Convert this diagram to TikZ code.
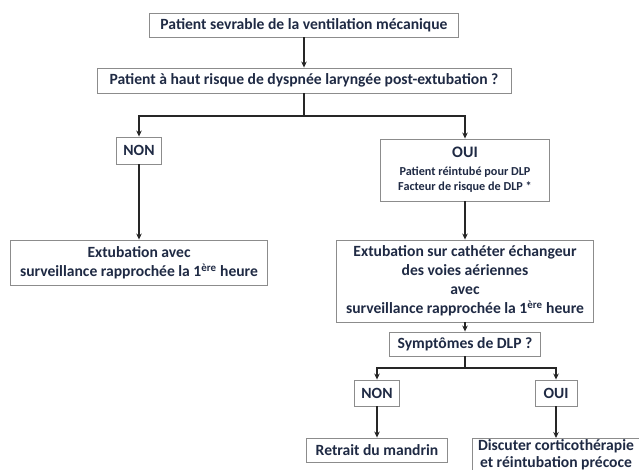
\documentclass[tikz,border=0pt]{standalone}
\usepackage{fontspec}
\setmainfont{Carlito}
\usetikzlibrary{arrows.meta}
\definecolor{boxgray}{HTML}{8C8C8C}
\definecolor{navytext}{HTML}{1F2A44}

\begin{document}
\begin{tikzpicture}[x=1pt,y=-1pt,
	boxnode/.style={draw=boxgray,line width=0.9pt,fill=white,align=center,inner sep=2pt,
		font=\fontsize{15.6}{19}\selectfont\bfseries,text=navytext},
	link/.style={line width=1.5pt,draw=black!85},
	arr/.style={link,-{Stealth[length=6pt,width=5.5pt]}}]
	% Page
	\useasboundingbox (0,0) rectangle (639,470);
	\def\leftx{139}
	\def\rightx{465}

	% First question
	\node[boxnode,minimum width=309pt,minimum height=24pt] (sevrable) at (304,25) {Patient sevrable de la ventilation mécanique};
	\node[boxnode,minimum width=414pt,minimum height=25pt] (risque) at (304,80.5) {Patient à haut risque de dyspnée laryngée post-extubation ?};
	\coordinate (split) at (304,116);

	\node[boxnode,minimum width=45pt,minimum height=27pt] (non) at (\leftx,150.5) {NON};
	\node[boxnode,minimum width=169pt,minimum height=62pt,font=\fontsize{12.2}{15}\selectfont\bfseries] (oui) at (\rightx,170)
		{{\fontsize{16}{19}\selectfont OUI}\\[3pt]Patient réintubé pour DLP\\Facteur de risque de DLP *};

	\node[boxnode,minimum width=257pt,minimum height=45pt] (extub) at (\leftx,262.5) {Extubation avec\\surveillance rapprochée la 1\textsuperscript{ère} heure};
	\node[boxnode,minimum width=257pt,minimum height=82pt] (echangeur) at (\rightx,281)
		{Extubation sur cathéter échangeur\\des voies aériennes\\avec\\surveillance rapprochée la 1\textsuperscript{ère} heure};

	% Second question
	\node[boxnode,minimum width=151pt,minimum height=24pt] (symptomes) at (\rightx,344) {Symptômes de DLP ?};
	\coordinate (split2) at (\rightx,368);
	\node[boxnode,minimum width=45pt,minimum height=26pt] (non2) at (377,393) {NON};
	\node[boxnode,minimum width=42pt,minimum height=26pt] (oui2) at (556,393) {OUI};
	\node[boxnode,minimum width=141pt,minimum height=24pt] (retrait) at (377,450) {Retrait du mandrin};
	\node[boxnode,minimum width=168pt,inner ysep=1pt,anchor=north,font=\fontsize{15.6}{17}\selectfont\bfseries] (discuter) at (556,438) {Discuter corticothérapie\\et réintubation précoce};

	\draw[arr] (sevrable) -- (risque);
	\draw[link] (risque) -- (split);
	\draw[arr] (split) -| (non.north);
	\draw[arr] (split) -| (oui.north);
	\draw[arr] (non) -- (extub);
	\draw[arr] (oui) -- (echangeur);
	\draw[arr] (echangeur) -- (symptomes);
	\draw[link] (symptomes) -- (split2);
	\draw[arr] (split2) -| (non2.north);
	\draw[arr] (split2) -| (oui2.north);
	\draw[arr] (non2) -- (retrait);
	\draw[arr] (oui2) -- (discuter);
\end{tikzpicture}
\end{document}
